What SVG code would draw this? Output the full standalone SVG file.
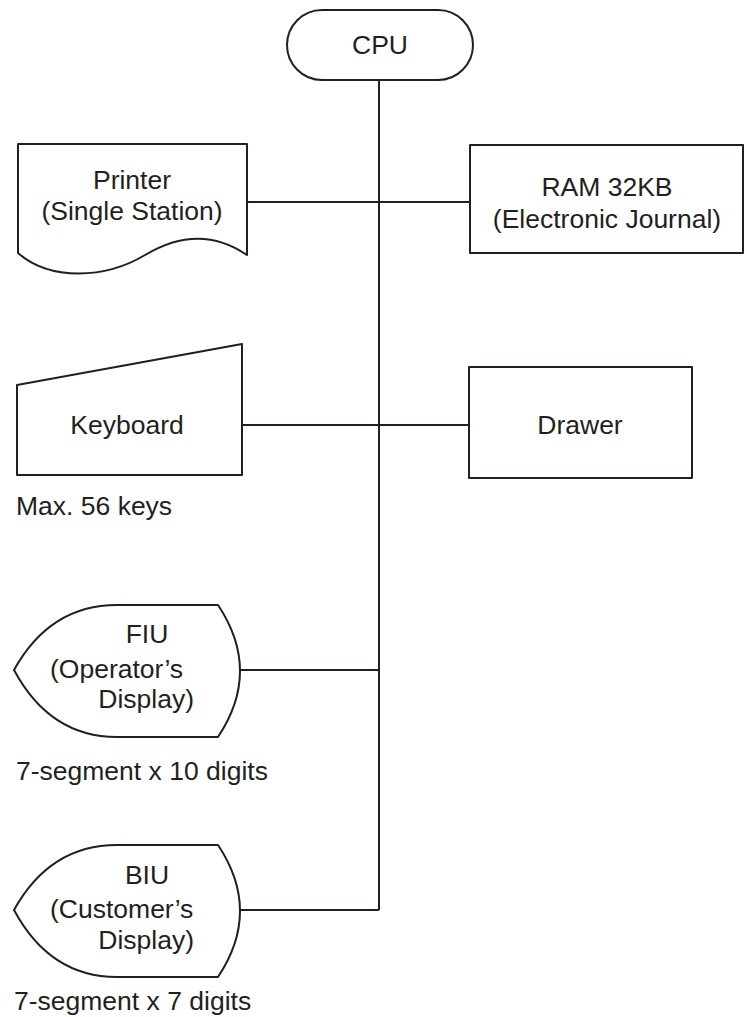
<svg xmlns="http://www.w3.org/2000/svg" width="747" height="1017" viewBox="0 0 747 1017">
<style>
.s{fill:#fff;stroke:#231f20;stroke-width:2;stroke-linejoin:round}
.t{font-family:"Liberation Sans",Arial,sans-serif;font-size:26.5px;fill:#231f20}
.m{text-anchor:middle}
.c{stroke:#231f20;stroke-width:2;fill:none}
</style>
<rect width="747" height="1017" fill="#fff"/>
<g id="connectors">
<line class="c" x1="379" y1="80" x2="379" y2="910"/>
<line class="c" x1="247" y1="202" x2="470" y2="202"/>
<line class="c" x1="242" y1="425" x2="469" y2="425"/>
<line class="c" x1="240" y1="670" x2="379" y2="670"/>
<line class="c" x1="240" y1="910" x2="379" y2="910"/>
</g>
<g id="cpu">
<rect class="s" x="287" y="10" width="186" height="70" rx="35" ry="35"/>
<text class="t m" x="380" y="54">CPU</text>
</g>
<g id="printer">
<path class="s" d="M18,144 L247,144 L247,255 C215,233 180,234 145,255 C105,279 50,281 18,253 Z"/>
<text class="t m" x="132" y="189">Printer</text>
<text class="t m" x="132" y="220">(Single Station)</text>
</g>
<g id="ram">
<rect class="s" x="470" y="145" width="273" height="108"/>
<text class="t m" x="607" y="196">RAM 32KB</text>
<text class="t m" x="607" y="228">(Electronic Journal)</text>
</g>
<g id="keyboard">
<path class="s" d="M17,385 L242,344 L242,475 L17,475 Z"/>
<text class="t m" x="127" y="434">Keyboard</text>
</g>
<text class="t" x="16" y="515">Max. 56 keys</text>
<g id="drawer">
<rect class="s" x="469" y="367" width="223" height="111"/>
<text class="t m" x="580" y="434">Drawer</text>
</g>
<g id="fiu">
<path class="s" d="M117,605 L218,605 Q262,671 218,737 L117,737 Q50,737 14,670 Q50,605 117,605 Z"/>
<text class="t m" x="147" y="643">FIU</text>
<text class="t" x="50" y="678">(Operator’s</text>
<text class="t" x="194" y="708" text-anchor="end">Display)</text>
</g>
<text class="t" x="16" y="780">7-segment x 10 digits</text>
<g id="biu">
<path class="s" d="M117,845 L218,845 Q262,911 218,977 L117,977 Q50,977 14,910 Q50,845 117,845 Z"/>
<text class="t m" x="147" y="884">BIU</text>
<text class="t" x="50" y="918">(Customer’s</text>
<text class="t" x="194" y="949" text-anchor="end">Display)</text>
</g>
<text class="t" x="14" y="1010">7-segment x 7 digits</text>
</svg>
